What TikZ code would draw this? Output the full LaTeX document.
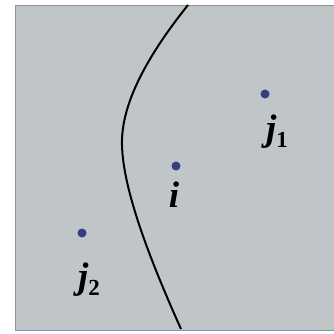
\documentclass[tikz,border=0pt]{standalone}
\usepackage{fontspec}
\setmainfont{Liberation Serif}
\usepackage{xcolor}
\usepackage{tikz}
\usetikzlibrary{positioning}
\definecolor{plane}{RGB}{192,198,200}
\definecolor{planeedge}{RGB}{140,146,156}
\definecolor{pt}{RGB}{52,62,130}
\newcommand{\ptlab}[2]{{\bfseries\itshape #1}\raisebox{-0.18em}{\fontsize{23}{23}\selectfont\bfseries #2}}

\begin{document}
\begin{tikzpicture}[
  x=1pt, y=-1pt,
  dot/.style={circle, fill=pt, inner sep=0pt, minimum size=9pt},
  lab/.style={font=\fontsize{37}{40}\selectfont, inner sep=0pt, anchor=north},
  bound/.style={line width=2pt, black}
]
\useasboundingbox (0,0) rectangle (333,334);
% region
\draw[planeedge, fill=plane, line width=0.8pt] (15,5) rectangle (340,330);
% boundary curve
\draw[bound] (188,5) .. controls (140,65) and (121,110) .. (122,145)
  .. controls (123,190) and (150,260) .. (181,329);
% points
\node[dot] (j1) at (265,94) {};
\node[dot] (i) at (176,166) {};
\node[dot] (j2) at (82,233) {};
\node[lab] (lj1) at (277,115) {\ptlab{j}{1}};
\node[lab] (li) at (174,182) {\ptlab{i}{}};
\node[lab] (lj2) at (89,263) {\ptlab{j}{2}};
\end{tikzpicture}
\end{document}
